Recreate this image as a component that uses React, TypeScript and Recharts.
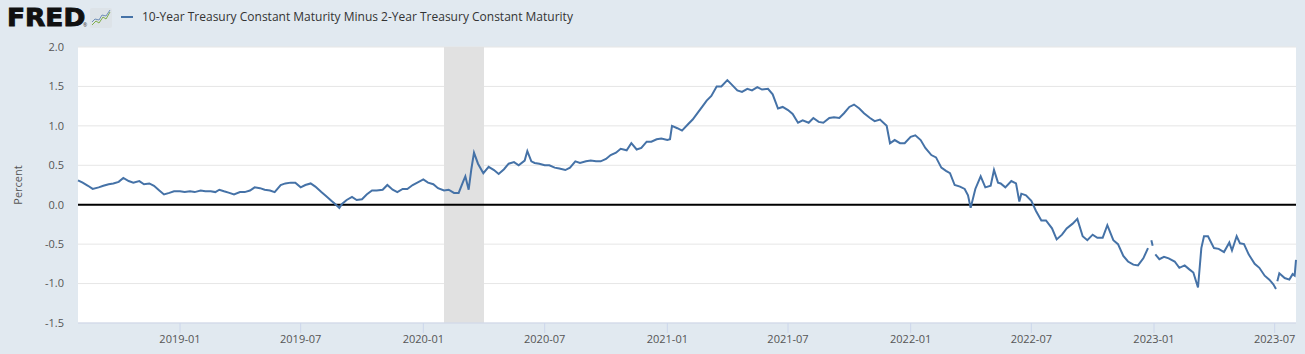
import {
  LineChart,
  Line,
  XAxis,
  YAxis,
  CartesianGrid,
  ReferenceArea,
  ReferenceLine,
} from 'recharts';

// 10-Year minus 2-Year Treasury spread (percent)
const DAYS_2018 = [
  '08-01', '08-08', '08-16', '08-23', '09-01', '09-08', '09-16', '09-23',
  '10-01', '10-08', '10-16', '10-23', '11-01', '11-08', '11-16', '11-23',
  '12-01', '12-08', '12-16', '12-23',
];
const SPREAD_2018 = [
  0.31, 0.28, 0.24, 0.2, 0.22, 0.24, 0.26, 0.27,
  0.29, 0.34, 0.3, 0.28, 0.3, 0.26, 0.27, 0.24,
  0.18, 0.13, 0.15, 0.17,
];

const DAYS_2019 = [
  '01-01', '01-08', '01-16', '01-23', '02-01', '02-08', '02-16', '02-23',
  '03-01', '03-08', '03-16', '03-23', '04-01', '04-08', '04-16', '04-23',
  '05-01', '05-08', '05-16', '05-23', '06-01', '06-08', '06-16', '06-23',
  '07-01', '07-08', '07-16', '07-23', '08-01', '08-08', '08-16', '08-23', '08-28',
  '09-01', '09-08', '09-16', '09-23', '10-01', '10-08', '10-16', '10-23',
  '11-01', '11-08', '11-16', '11-23', '12-01', '12-08', '12-16', '12-23',
];
const SPREAD_2019 = [
  0.17, 0.16, 0.17, 0.16, 0.18, 0.17, 0.17, 0.16,
  0.19, 0.17, 0.15, 0.13, 0.16, 0.16, 0.18, 0.22,
  0.21, 0.19, 0.18, 0.16, 0.25, 0.27, 0.28, 0.28,
  0.22, 0.25, 0.27, 0.23, 0.16, 0.11, 0.05, 0.0, -0.04,
  0.01, 0.06, 0.1, 0.06, 0.07, 0.13, 0.18, 0.18,
  0.19, 0.25, 0.19, 0.16, 0.2, 0.2, 0.25, 0.28,
];

const DAYS_2020 = [
  '01-01', '01-08', '01-16', '01-23', '02-01', '02-08', '02-16', '02-23',
  '03-01', '03-04', '03-09', '03-13', '03-17', '03-23', '03-31',
  '04-08', '04-16', '04-23', '05-01', '05-08', '05-16', '05-23',
  '06-01', '06-05', '06-11', '06-16', '06-23', '07-01', '07-08', '07-16', '07-23',
  '08-01', '08-08', '08-16', '08-23', '09-01', '09-08', '09-16', '09-23',
  '10-01', '10-08', '10-16', '10-23', '11-01', '11-08', '11-16', '11-23',
  '12-01', '12-08', '12-16', '12-23',
];
const SPREAD_2020 = [
  0.32, 0.28, 0.26, 0.21, 0.18, 0.19, 0.15, 0.15,
  0.3, 0.36, 0.19, 0.45, 0.66, 0.52, 0.4,
  0.48, 0.44, 0.39, 0.45, 0.52, 0.54, 0.5,
  0.56, 0.68, 0.55, 0.53, 0.52, 0.5, 0.5, 0.47, 0.46,
  0.44, 0.47, 0.55, 0.53, 0.55, 0.56, 0.55, 0.55,
  0.58, 0.63, 0.66, 0.71, 0.69, 0.78, 0.7, 0.72,
  0.8, 0.8, 0.83, 0.84,
];

const DAYS_2021 = [
  '01-01', '01-05', '01-08', '01-16', '01-23', '02-01', '02-08', '02-16', '02-23',
  '03-01', '03-08', '03-16', '03-23', '04-01', '04-08', '04-16', '04-23',
  '05-01', '05-08', '05-16', '05-23', '06-01', '06-08', '06-16', '06-23',
  '07-01', '07-08', '07-16', '07-23', '08-01', '08-08', '08-16', '08-23',
  '09-01', '09-08', '09-16', '09-23', '10-01', '10-08', '10-16', '10-23',
  '11-01', '11-08', '11-16', '11-26', '12-01', '12-08', '12-16', '12-23',
];
const SPREAD_2021 = [
  0.82, 0.83, 1.0, 0.97, 0.94, 1.02, 1.08, 1.17, 1.25,
  1.32, 1.38, 1.5, 1.5, 1.58, 1.52, 1.45, 1.43,
  1.47, 1.45, 1.49, 1.46, 1.47, 1.4, 1.22, 1.24,
  1.2, 1.15, 1.04, 1.07, 1.04, 1.1, 1.05, 1.04,
  1.1, 1.11, 1.1, 1.16, 1.24, 1.27, 1.22, 1.16,
  1.1, 1.06, 1.08, 1.0, 0.78, 0.82, 0.78, 0.78,
];

const DAYS_2022 = [
  '01-01', '01-08', '01-16', '01-23', '02-01', '02-08', '02-16', '02-23',
  '03-01', '03-08', '03-16', '03-23', '03-28', '04-01', '04-08', '04-16', '04-23',
  '05-01', '05-06', '05-12', '05-16', '05-23', '06-01', '06-08', '06-13', '06-16', '06-23',
  '07-01', '07-08', '07-16', '07-23', '08-01', '08-08', '08-16', '08-23',
  '09-01', '09-08', '09-16', '09-23', '10-01', '10-08', '10-16', '10-23',
  '11-01', '11-08', '11-16', '11-23', '12-01', '12-08', '12-16', '12-23',
  '12-26', '12-28', '12-30',
];
const SPREAD_2022 = [
  0.86, 0.88, 0.82, 0.72, 0.63, 0.6, 0.47, 0.43,
  0.4, 0.25, 0.23, 0.2, 0.12, -0.04, 0.2, 0.36, 0.22,
  0.24, 0.44, 0.28, 0.27, 0.22, 0.3, 0.27, 0.04, 0.14, 0.12,
  0.05, -0.08, -0.2, -0.2, -0.3, -0.44, -0.38, -0.3,
  -0.24, -0.18, -0.4, -0.45, -0.38, -0.42, -0.42, -0.26,
  -0.45, -0.5, -0.65, -0.72, -0.76, -0.77, -0.68, -0.55,
  null, -0.45, -0.52,
];

const DAYS_2023 = [
  '01-02', '01-03', '01-09', '01-16', '01-23', '02-01', '02-08', '02-16', '02-23',
  '03-01', '03-08', '03-13', '03-17', '03-23', '04-01', '04-08', '04-16', '04-24', '04-28',
  '05-05', '05-10', '05-16', '05-23', '06-01', '06-08', '06-16', '06-23', '06-29',
  '07-03', '07-04', '07-05', '07-08', '07-16', '07-23', '07-28', '07-31', '08-02',
];
const SPREAD_2023 = [
  null, -0.63, -0.69, -0.66, -0.68, -0.72, -0.8, -0.77, -0.82,
  -0.86, -1.05, -0.55, -0.4, -0.4, -0.55, -0.56, -0.6, -0.48, -0.58,
  -0.4, -0.49, -0.5, -0.63, -0.75, -0.8, -0.9, -0.95, -1.01,
  -1.07, null, -0.97, -0.87, -0.93, -0.95, -0.88, -0.9, -0.7,
];

const X_TICK_LABELS = [
  '2019-01', '2019-07', '2020-01', '2020-07', '2021-01',
  '2021-07', '2022-01', '2022-07', '2023-01', '2023-07',
];
const Y_TICKS = [-1.5, -1, -0.5, 0, 0.5, 1, 1.5, 2];
const RECESSION = ['2020-02-01', '2020-04-01'];
const X_RANGE = ['2018-08-01', '2023-08-02'];

const YEARS = [
  { year: 2018, days: DAYS_2018, values: SPREAD_2018 },
  { year: 2019, days: DAYS_2019, values: SPREAD_2019 },
  { year: 2020, days: DAYS_2020, values: SPREAD_2020 },
  { year: 2021, days: DAYS_2021, values: SPREAD_2021 },
  { year: 2022, days: DAYS_2022, values: SPREAD_2022 },
  { year: 2023, days: DAYS_2023, values: SPREAD_2023 },
];

const data = YEARS.flatMap(({ year, days, values }) =>
  days.map((d, i) => ({ t: Date.parse(`${year}-${d}`), spread: values[i] }))
);

const xTicks = X_TICK_LABELS.map((m) => Date.parse(`${m}-01`));
const formatMonth = (t: number) => new Date(t).toISOString().slice(0, 7);

const LINE_COLOR = '#4572a7';
const LABEL_COLOR = '#555';

const FredIcon = () => (
  <svg width={22} height={20} style={{ position: 'absolute', left: 90, top: 8 }}>
    <rect x={0} y={0} width={22} height={20} rx={2} fill="#dde3e8" />
    <polyline points="2,17 6,13 9,15 13,9 16,11 20,4" fill="none" stroke="#7fae4a" strokeWidth={1} />
    <polyline points="2,14 5,11 9,12 12,7 16,8 20,2" fill="none" stroke="#6f8fb8" strokeWidth={1} />
  </svg>
);

export default function App() {
  return (
    <div
      style={{
        position: 'relative',
        width: 1305,
        height: 354,
        background: '#e1e9f0',
        fontFamily: '"Open Sans", sans-serif',
        overflow: 'hidden',
      }}
    >
      <style>{'body{margin:0}'}</style>
      <div
        style={{
          position: 'absolute',
          left: 7,
          top: 4,
          fontFamily: '"DejaVu Sans", sans-serif',
          fontWeight: 'bold',
          fontSize: 24,
          lineHeight: '28px',
          letterSpacing: 0,
          color: '#111',
          transform: 'scaleX(1.1)',
          transformOrigin: 'left center',
          WebkitTextStroke: '0.9px #111',
        }}
      >
        FRED
      </div>
      <div style={{ position: 'absolute', left: 83, top: 22, fontSize: 5, color: '#333' }}>®</div>
      <FredIcon />
      <div style={{ position: 'absolute', left: 121, top: 16, width: 12, height: 2, background: LINE_COLOR }} />
      <div
        style={{
          position: 'absolute',
          left: 142,
          top: 9,
          fontSize: 12,
          lineHeight: '16px',
          color: '#333',
          whiteSpace: 'nowrap',
        }}
      >
        10-Year Treasury Constant Maturity Minus 2-Year Treasury Constant Maturity
      </div>

      <LineChart
        width={1305}
        height={354}
        data={data}
        margin={{ top: 47, right: 9, bottom: 0, left: 0 }}
      >
        <CartesianGrid horizontal vertical={false} stroke="#e6e6e6" fill="#fff" />
        <ReferenceArea
          x1={Date.parse(RECESSION[0])}
          x2={Date.parse(RECESSION[1])}
          fill="#e1e1e1"
          fillOpacity={1}
          stroke="none"
        />
        <XAxis
          dataKey="t"
          type="number"
          scale="time"
          domain={[Date.parse(X_RANGE[0]), Date.parse(X_RANGE[1])]}
          ticks={xTicks}
          tickFormatter={formatMonth}
          height={31}
          tickSize={10}
          tickMargin={2}
          axisLine={{ stroke: '#ccd6eb' }}
          tickLine={{ stroke: '#ccd6eb' }}
          tick={{ fontSize: 11, fill: LABEL_COLOR }}
        />
        <YAxis
          type="number"
          domain={[-1.5, 2]}
          ticks={Y_TICKS}
          tickFormatter={(v: number) => v.toFixed(1)}
          width={78}
          axisLine={false}
          tickLine={false}
          tickSize={0}
          tickMargin={14}
          tick={{ fontSize: 11, fill: LABEL_COLOR }}
          label={{
            value: 'Percent',
            angle: -90,
            position: 'insideLeft',
            offset: 18,
            fill: LABEL_COLOR,
            fontSize: 11,
            style: { textAnchor: 'middle' },
          }}
        />
        <ReferenceLine y={0} stroke="#000" strokeWidth={2} />
        <Line
          type="linear"
          dataKey="spread"
          stroke={LINE_COLOR}
          strokeWidth={2}
          dot={false}
          activeDot={false}
          connectNulls={false}
          isAnimationActive={false}
        />
      </LineChart>
    </div>
  );
}
